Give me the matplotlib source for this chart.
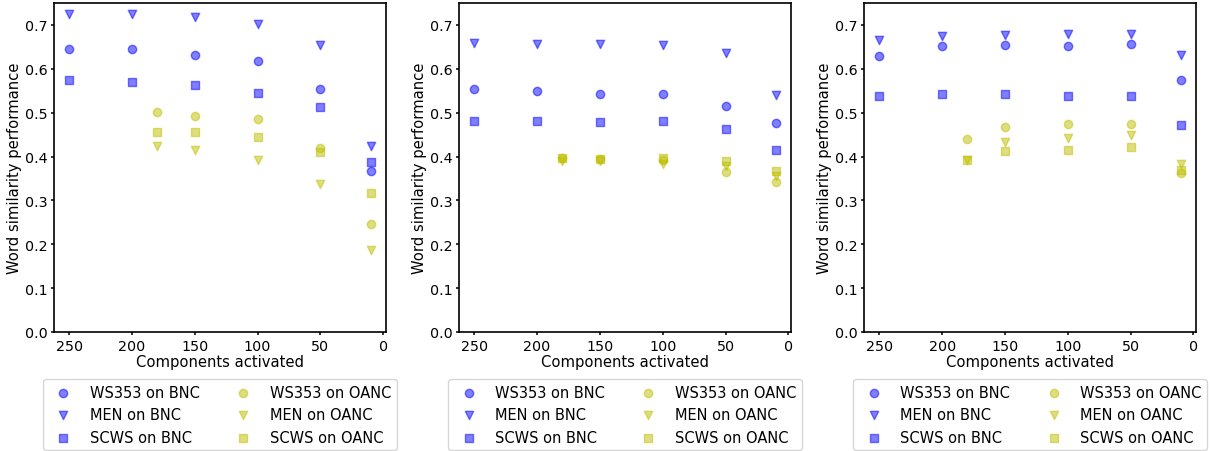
import numpy as np
import matplotlib
matplotlib.use("Agg")
import matplotlib.pyplot as plt

# components activated
x_bnc = [250, 200, 150, 100, 50, 10]
x_oanc = [180, 150, 100, 50, 10]

# panel 1
p1_ws_bnc = [0.644, 0.644, 0.632, 0.618, 0.553, 0.366]
p1_men_bnc = [0.726, 0.724, 0.718, 0.703, 0.655, 0.423]
p1_scws_bnc = [0.574, 0.571, 0.562, 0.544, 0.514, 0.387]
p1_ws_oanc = [0.501, 0.493, 0.485, 0.420, 0.247]
p1_men_oanc = [0.425, 0.416, 0.393, 0.337, 0.186]
p1_scws_oanc = [0.457, 0.457, 0.444, 0.410, 0.317]

# panel 2
p2_ws_bnc = [0.553, 0.550, 0.543, 0.542, 0.516, 0.476]
p2_men_bnc = [0.658, 0.656, 0.656, 0.654, 0.637, 0.540]
p2_scws_bnc = [0.482, 0.482, 0.479, 0.480, 0.462, 0.416]
p2_ws_oanc = [0.396, 0.394, 0.393, 0.365, 0.341]
p2_men_oanc = [0.390, 0.389, 0.384, 0.378, 0.355]
p2_scws_oanc = [0.397, 0.395, 0.397, 0.389, 0.366]

# panel 3
p3_ws_bnc = [0.630, 0.651, 0.654, 0.653, 0.656, 0.575]
p3_men_bnc = [0.665, 0.675, 0.678, 0.679, 0.680, 0.631]
p3_scws_bnc = [0.537, 0.542, 0.542, 0.539, 0.537, 0.473]
p3_ws_oanc = [0.441, 0.468, 0.475, 0.475, 0.363]
p3_men_oanc = [0.393, 0.433, 0.442, 0.448, 0.384]
p3_scws_oanc = [0.393, 0.413, 0.414, 0.422, 0.370]

panels = [
    (p1_ws_bnc, p1_men_bnc, p1_scws_bnc, p1_ws_oanc, p1_men_oanc, p1_scws_oanc),
    (p2_ws_bnc, p2_men_bnc, p2_scws_bnc, p2_ws_oanc, p2_men_oanc, p2_scws_oanc),
    (p3_ws_bnc, p3_men_bnc, p3_scws_bnc, p3_ws_oanc, p3_men_oanc, p3_scws_oanc),
]

fig, axes = plt.subplots(1, 3, figsize=(12.1, 4.52), dpi=100)
plt.subplots_adjust(left=54/1210, right=1196/1210, top=1-4/452, bottom=1-333/452, wspace=0.221)

for ax, (ws_b, men_b, scws_b, ws_o, men_o, scws_o) in zip(axes, panels):
    ax.scatter(x_bnc, ws_b, c='b', marker='o', alpha=0.5, label='WS353 on BNC')
    ax.scatter(x_bnc, men_b, c='b', marker='v', alpha=0.5, label='MEN on BNC')
    ax.scatter(x_bnc, scws_b, c='b', marker='s', alpha=0.5, label='SCWS on BNC')
    ax.scatter(x_oanc, ws_o, c='y', marker='o', alpha=0.5, label='WS353 on OANC')
    ax.scatter(x_oanc, men_o, c='y', marker='v', alpha=0.5, label='MEN on OANC')
    ax.scatter(x_oanc, scws_o, c='y', marker='s', alpha=0.5, label='SCWS on OANC')
    ax.set_ylim(0, 0.75)
    ax.set_xlim(262, -2)
    for sp in ax.spines.values():
        sp.set_linewidth(1.2)
    ax.tick_params(labelsize=10.3, length=2.5, width=1.1, pad=2.2)
    ax.set_xlabel('Components activated', fontsize=10.6, labelpad=1)
    ax.set_ylabel('Word similarity performance', fontsize=10.6, labelpad=2)
    ax.legend(loc='upper center', bbox_to_anchor=(0.5, -0.121), ncol=2, fontsize=10.5)

plt.savefig('out.png')
